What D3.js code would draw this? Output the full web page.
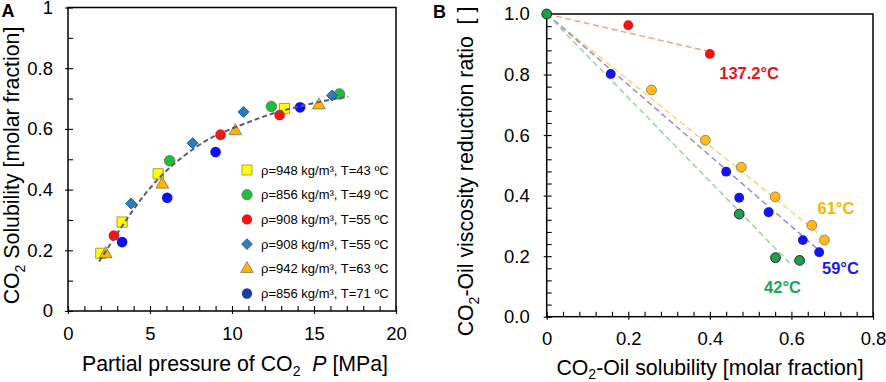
<!doctype html>
<html lang="en">
    <head>
        <meta charset="utf-8">
        <title>CO2 solubility and viscosity reduction</title>
        <script type="text/javascript" src="https://cdn.jsdelivr.net/npm/d3@7"></script>
        <style>
            body { margin: 0; background: #fff; }
            svg { display: block; font-family: Arial, "Liberation Sans", sans-serif; }
        </style>
    </head>
    <body>
        <script type="text/javascript">
            // Panel A: partial pressure of CO2 [MPa] vs solubility [molar fraction]
            var p43 = [2.0, 3.3, 5.5, 13.2];
            var s43 = [0.19, 0.293, 0.452, 0.667];
            var p49 = [6.2, 12.4, 16.55];
            var s49 = [0.495, 0.674, 0.715];
            var p55 = [2.8, 9.3, 12.9];
            var s55 = [0.249, 0.581, 0.646];
            var p55b = [3.85, 7.6, 10.7, 16.1];
            var s55b = [0.354, 0.553, 0.656, 0.71];
            var p63 = [2.3, 5.75, 10.2, 15.3];
            var s63 = [0.188, 0.417, 0.593, 0.678];
            var p71 = [3.3, 6.05, 9.0, 14.15];
            var s71 = [0.227, 0.373, 0.524, 0.671];

            // fitted curve
            var fitP = [1.9, 3, 4, 5, 6, 7, 8, 9, 10, 11, 12, 13, 14, 15, 16, 17.1];
            var fitS = [0.163, 0.255, 0.335, 0.405, 0.462, 0.508, 0.547, 0.578, 0.601, 0.622, 0.642, 0.659, 0.673, 0.685, 0.696, 0.706];

            var legendLabels = [
                "ρ=948 kg/m³, T=43 ºC",
                "ρ=856 kg/m³, T=49 ºC",
                "ρ=908 kg/m³, T=55 ºC",
                "ρ=908 kg/m³, T=55 ºC",
                "ρ=942 kg/m³, T=63 ºC",
                "ρ=856 kg/m³, T=71 ºC"
            ];

            var xTicksA = [0, 5, 10, 15, 20];
            var yTicksA = [0, 0.2, 0.4, 0.6, 0.8, 1];
            var xTickLabelsA = ["0", "5", "10", "15", "20"];
            var yTickLabelsA = ["0", "0.2", "0.4", "0.6", "0.8", "1"];

            // Panel B: CO2-oil solubility vs viscosity reduction ratio
            var sol42 = [0, 0.472, 0.561, 0.62];
            var red42 = [1.0, 0.339, 0.195, 0.186];
            var sol59 = [0.157, 0.44, 0.472, 0.544, 0.628, 0.668];
            var red59 = [0.802, 0.479, 0.393, 0.345, 0.253, 0.213];
            var sol61 = [0.257, 0.389, 0.477, 0.56, 0.65, 0.681];
            var red61 = [0.749, 0.583, 0.494, 0.396, 0.302, 0.253];
            var sol137 = [0.2, 0.4];
            var red137 = [0.963, 0.868];

            // trend line end points
            var trendSol137 = [0, 0.395];
            var trendRed137 = [1.0, 0.877];
            var trendSol61 = [0, 0.68];
            var trendRed61 = [1.0, 0.26];
            var trendSol59 = [0, 0.662];
            var trendRed59 = [1.0, 0.226];
            var trendSol42 = [0, 0.6];
            var trendRed42 = [1.0, 0.171];

            var curveLabels = ["137.2°C", "61°C", "59°C", "42°C"];
            var curveLabelSol = [0.423, 0.664, 0.675, 0.533];
            var curveLabelRed = [0.804, 0.358, 0.16, 0.099];

            var xTicksB = [0, 0.2, 0.4, 0.6, 0.8];
            var yTicksB = [0, 0.2, 0.4, 0.6, 0.8, 1.0];
            var xTickLabelsB = ["0", "0.2", "0.4", "0.6", "0.8"];
            var yTickLabelsB = ["0.0", "0.2", "0.4", "0.6", "0.8", "1.0"];

            var W = 886, H = 382;
            var zip = (xs, ys) => xs.map((x, i) => [x, ys[i]]);

            var svg = d3.select("body")
                        .append("svg")
                        .attr("width", W)
                        .attr("height", H);

            function drawFrame(x, y, plot, xMajor, xLabels, xMinor, yMajor, yLabels, yMinor) {
                var g = svg.append("g");

                g.append("g")
                 .attr("transform", "translate(0," + plot.bottom + ")")
                 .call(d3.axisBottom(x).tickValues(xMinor).tickSizeInner(-5).tickSizeOuter(0).tickFormat(""));
                g.append("g")
                 .attr("transform", "translate(0," + plot.bottom + ")")
                 .call(d3.axisBottom(x).tickValues(xMajor).tickSizeInner(3).tickSizeOuter(0)
                         .tickPadding(plot.xPad).tickFormat((_, i) => xLabels[i]));
                g.append("g")
                 .attr("transform", "translate(" + plot.left + ",0)")
                 .call(d3.axisLeft(y).tickValues(yMinor).tickSizeInner(-5).tickSizeOuter(0).tickFormat(""));
                g.append("g")
                 .attr("transform", "translate(" + plot.left + ",0)")
                 .call(d3.axisLeft(y).tickValues(yMajor).tickSizeInner(3).tickSizeOuter(0)
                         .tickPadding(plot.yPad).tickFormat((_, i) => yLabels[i]));

                g.selectAll("g").attr("font-size", 18.5).attr("font-family", null);
                g.selectAll(".tick line").attr("stroke-width", 1.1);
                g.selectAll(".domain").attr("stroke", "none");

                g.append("rect")
                 .attr("x", plot.left)
                 .attr("y", plot.top)
                 .attr("width", plot.right - plot.left)
                 .attr("height", plot.bottom - plot.top)
                 .attr("fill", "none")
                 .attr("stroke", "#000")
                 .attr("stroke-width", 1.5);
            }

            // ---------- Panel A ----------
            var plotA = {left: 68, right: 396, top: 7.5, bottom: 311, xPad: 12.5, yPad: 12};
            var xA = d3.scaleLinear().domain([0, 20]).range([plotA.left, plotA.right]);
            var yA = d3.scaleLinear().domain([0, 1]).range([plotA.bottom, plotA.top]);

            drawFrame(xA, yA, plotA, xTicksA, xTickLabelsA, xA.ticks(20),
                      yTicksA, yTickLabelsA, yA.ticks(10));

            var seriesA = [
                {pts: zip(p43, s43), type: d3.symbolSquare, size: 105, rot: 0, fill: "#ffff00", stroke: "#9a9450", legendFill: "#ffff00"},
                {pts: zip(p49, s49), type: d3.symbolCircle, size: 88, rot: 0, fill: "#22bb3a", stroke: "#4f8a55", legendFill: "#22bb3a"},
                {pts: zip(p55, s55), type: d3.symbolCircle, size: 88, rot: 0, fill: "#ff1010", stroke: "none", legendFill: "#ff1010"},
                {pts: zip(p55b, s55b), type: d3.symbolSquare, size: 60, rot: 45, fill: "#2b7dc2", stroke: "#1d5a8e", legendFill: "#2b7dc2"},
                {pts: zip(p63, s63), type: d3.symbolTriangle, size: 70, rot: 0, fill: "#ffb400", stroke: "#8c7c55", legendFill: "#ffb400"},
                {pts: zip(p71, s71), type: d3.symbolCircle, size: 88, rot: 0, fill: "#0c10f5", stroke: "none", legendFill: "#1c3aa8"}
            ];

            var markA = svg.append("g");
            seriesA.forEach(s => {
                markA.selectAll(null)
                     .data(s.pts)
                     .enter()
                     .append("path")
                     .attr("d", d3.symbol().type(s.type).size(s.size))
                     .attr("transform", d => "translate(" + xA(d[0]) + "," + yA(d[1]) + ") rotate(" + s.rot + ")")
                     .attr("fill", s.fill)
                     .attr("stroke", s.stroke)
                     .attr("stroke-width", 0.9);
            });

            var fitLine = d3.line()
                            .x(d => xA(d[0]))
                            .y(d => yA(d[1]))
                            .curve(d3.curveMonotoneX);

            svg.append("path")
               .datum(zip(fitP, fitS))
               .attr("d", fitLine)
               .attr("fill", "none")
               .attr("stroke", "#5b5a6c")
               .attr("stroke-width", 2)
               .attr("stroke-dasharray", "5,3");

            var legend = svg.append("g")
                            .attr("transform", "translate(247,170)");
            var rows = legend.selectAll("g")
                             .data(seriesA)
                             .enter()
                             .append("g")
                             .attr("transform", (_, i) => "translate(0," + (i * 24.7) + ")");
            rows.append("path")
                .attr("d", s => d3.symbol().type(s.type).size(s.size * 0.95)())
                .attr("transform", s => "rotate(" + s.rot + ")")
                .attr("fill", s => s.legendFill)
                .attr("stroke", s => s.stroke)
                .attr("stroke-width", 0.9);
            rows.append("text")
                .attr("x", 14)
                .attr("dy", "0.36em")
                .attr("font-size", 13)
                .text((_, i) => legendLabels[i]);

            svg.append("text")
               .attr("x", 235)
               .attr("y", 371)
               .attr("text-anchor", "middle")
               .attr("font-size", 21.3)
               .style("white-space", "pre")
               .call(t => {
                   t.append("tspan").text("Partial pressure of CO");
                   t.append("tspan").attr("dy", 5).attr("font-size", 14).text("2");
                   t.append("tspan").attr("dy", -5).text("  ");
                   t.append("tspan").attr("font-style", "italic").text("P");
                   t.append("tspan").text(" [MPa]");
               });

            svg.append("text")
               .attr("transform", "translate(18.5,165.5) rotate(-90)")
               .attr("text-anchor", "middle")
               .attr("font-size", 21.3)
               .call(t => {
                   t.append("tspan").text("CO");
                   t.append("tspan").attr("dy", 6).attr("font-size", 14).text("2");
                   t.append("tspan").attr("dy", -6).text(" Solubility [molar fraction]");
               });

            // ---------- Panel B ----------
            var plotB = {left: 546.7, right: 873, top: 14, bottom: 316.7, xPad: 12.5, yPad: 14};
            var xB = d3.scaleLinear().domain([0, 0.8]).range([plotB.left, plotB.right]);
            var yB = d3.scaleLinear().domain([0, 1]).range([plotB.bottom, plotB.top]);

            drawFrame(xB, yB, plotB, xTicksB, xTickLabelsB, d3.range(0, 0.801, 0.04),
                      yTicksB, yTickLabelsB, d3.range(0, 1.001, 0.04));

            var trends = [
                {pts: zip(trendSol137, trendRed137), color: "#f4a384"},
                {pts: zip(trendSol61, trendRed61), color: "#f7d27a"},
                {pts: zip(trendSol59, trendRed59), color: "#9a8ccf"},
                {pts: zip(trendSol42, trendRed42), color: "#9dd1a2"}
            ];

            var trendLine = d3.line()
                              .x(d => xB(d[0]))
                              .y(d => yB(d[1]));

            svg.append("g")
               .selectAll("path")
               .data(trends)
               .enter()
               .append("path")
               .attr("d", d => trendLine(d.pts))
               .attr("fill", "none")
               .attr("stroke", d => d.color)
               .attr("stroke-width", 1.5)
               .attr("stroke-dasharray", "6,3.5");

            var seriesB = [
                {pts: zip(sol137, red137), fill: "#f01414", stroke: "none"},
                {pts: zip(sol61, red61), fill: "#ffbb1e", stroke: "#9c7a36"},
                {pts: zip(sol59, red59), fill: "#1414f0", stroke: "none"},
                {pts: zip(sol42, red42), fill: "#1ea04e", stroke: "#1a1a1a"}
            ];

            var markB = svg.append("g");
            seriesB.forEach(s => {
                markB.selectAll(null)
                     .data(s.pts)
                     .enter()
                     .append("circle")
                     .attr("cx", d => xB(d[0]))
                     .attr("cy", d => yB(d[1]))
                     .attr("r", 4.9)
                     .attr("fill", s.fill)
                     .attr("stroke", s.stroke)
                     .attr("stroke-width", 0.9);
            });

            var labelColors = ["#e8141c", "#f8b500", "#1a1af0", "#1aa851"];
            svg.append("g")
               .selectAll("text")
               .data(curveLabels)
               .enter()
               .append("text")
               .attr("x", (_, i) => xB(curveLabelSol[i]))
               .attr("y", (_, i) => yB(curveLabelRed[i]))
               .attr("dy", "0.36em")
               .attr("font-size", 16.5)
               .attr("font-weight", "bold")
               .attr("fill", (_, i) => labelColors[i])
               .text(d => d);

            svg.append("text")
               .attr("x", 710)
               .attr("y", 375)
               .attr("text-anchor", "middle")
               .attr("font-size", 21.3)
               .call(t => {
                   t.append("tspan").text("CO");
                   t.append("tspan").attr("dy", 4).attr("font-size", 14).text("2");
                   t.append("tspan").attr("dy", -4).text("-Oil solubility [molar fraction]");
               });

            svg.append("text")
               .attr("transform", "translate(473,171.5) rotate(-90)")
               .attr("text-anchor", "middle")
               .attr("font-size", 21.3)
               .style("white-space", "pre")
               .call(t => {
                   t.append("tspan").text("CO");
                   t.append("tspan").attr("dy", 6).attr("font-size", 14).text("2");
                   t.append("tspan").attr("dy", -6).text("-Oil viscosity reduction ratio  [ ]");
               });

            // panel letters
            svg.append("text").attr("x", 1.5).attr("y", 16.8)
               .attr("font-size", 18).attr("font-weight", "bold").text("A");
            svg.append("text").attr("x", 433).attr("y", 18.4)
               .attr("font-size", 18).attr("font-weight", "bold").text("B");
        </script>
    </body>
</html>
